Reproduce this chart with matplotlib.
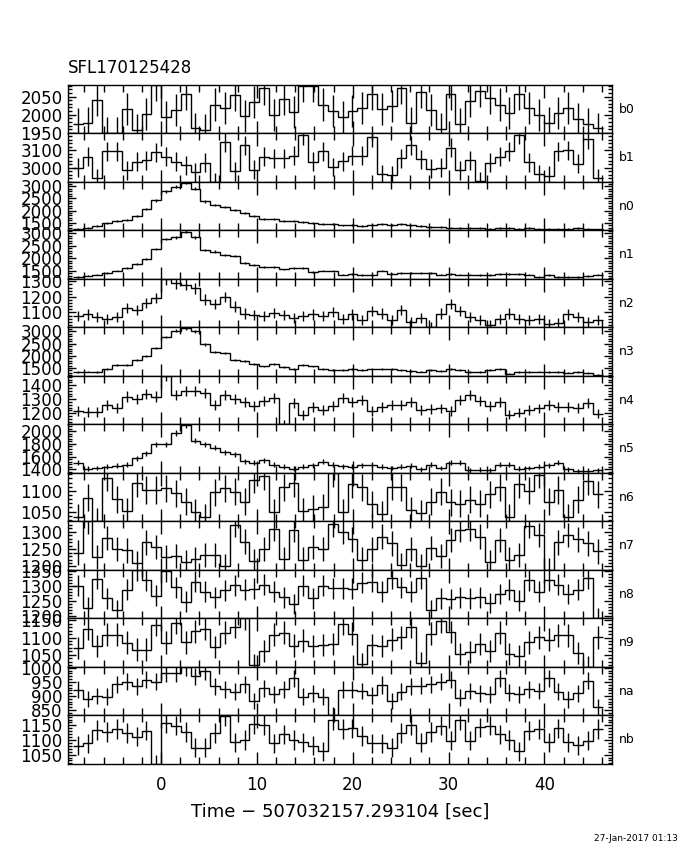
import numpy as np
import matplotlib
matplotlib.use('Agg')
import matplotlib.pyplot as plt
from matplotlib.ticker import MultipleLocator, AutoMinorLocator

# time bins: 1.024 s wide, first edge at -9.216 s from the trigger
t_start = -9.216
bin_width = 1.024

# count rates [counts/s] per detector, one value per bin
b0 = [1975, 1976, 2040, 1949, 1949, 2016, 1959, 2003, 2082, 1993,
      2014, 2057, 1962, 1957, 2028, 2019, 2054, 1997, 2035, 2073,
      2000, 2044, 2008, 2080, 2080, 2028, 2009, 1993, 2009, 2019,
      2057, 2016, 2025, 2075, 1976, 2063, 2012, 1960, 2057, 1975,
      2038, 2066, 2047, 2028, 2005, 2057, 2019, 2000, 1976, 2005,
      2019, 1988, 1974, 1962]
b1 = [3000, 3064, 2940, 3094, 3094, 2984, 3034, 3044, 3088, 3064,
      3034, 3014, 2974, 3028, 2918, 3148, 2980, 3128, 2988, 3064,
      3054, 3054, 3068, 3188, 3034, 3094, 3004, 3038, 3068, 3068,
      3174, 2964, 2958, 3054, 3128, 3048, 2994, 3000, 3114, 2984,
      3044, 2924, 3028, 3064, 3094, 3190, 3030, 2964, 2954, 3094,
      3100, 3024, 3164, 2940]
n0 = [1250, 1280, 1370, 1480, 1560, 1610, 1775, 2060, 2420, 2790,
      2990, 3150, 2910, 2380, 2240, 2150, 2040, 1920, 1780, 1670,
      1640, 1560, 1560, 1520, 1490, 1460, 1450, 1390, 1400, 1380,
      1420, 1440, 1400, 1460, 1390, 1380, 1310, 1335, 1300, 1280,
      1290, 1280, 1250, 1290, 1270, 1260, 1275, 1250, 1250, 1236,
      1260, 1270, 1240, 1222]
n1 = [1270, 1311, 1352, 1420, 1515, 1624, 1787, 1964, 2372, 2780,
      2848, 3079, 2848, 2331, 2277, 2127, 2100, 1828, 1733, 1651,
      1651, 1556, 1597, 1597, 1461, 1515, 1515, 1352, 1379, 1325,
      1325, 1515, 1393, 1420, 1420, 1420, 1420, 1352, 1379, 1352,
      1352, 1325, 1325, 1379, 1379, 1379, 1352, 1243, 1325, 1270,
      1243, 1270, 1297, 1352]
n2 = [1078, 1087, 1071, 1060, 1071, 1127, 1116, 1160, 1193, 1313,
      1287, 1278, 1255, 1182, 1153, 1198, 1138, 1093, 1082, 1078,
      1098, 1082, 1064, 1078, 1087, 1078, 1104, 1056, 1087, 1049,
      1109, 1093, 1049, 1116, 1038, 1064, 1004, 1093, 1153, 1109,
      1071, 1049, 1020, 1060, 1093, 1056, 1049, 1060, 1027, 1031,
      1087, 1071, 1038, 1049]
n3 = [1328, 1356, 1328, 1453, 1606, 1606, 1842, 2009, 2329, 2774,
      3024, 3121, 2996, 2468, 2162, 2120, 1842, 1773, 1662, 1564,
      1662, 1536, 1453, 1634, 1564, 1453, 1425, 1425, 1453, 1425,
      1467, 1453, 1467, 1425, 1384, 1356, 1425, 1384, 1467, 1425,
      1328, 1328, 1425, 1453, 1272, 1328, 1328, 1356, 1328, 1342,
      1314, 1328, 1286, 1217]
n4 = [1215, 1210, 1210, 1258, 1239, 1319, 1302, 1336, 1319, 1465,
      1327, 1360, 1360, 1344, 1258, 1327, 1302, 1283, 1254, 1288,
      1307, 1122, 1271, 1186, 1246, 1222, 1254, 1307, 1278, 1295,
      1215, 1246, 1258, 1258, 1278, 1222, 1229, 1234, 1215, 1295,
      1327, 1288, 1254, 1278, 1190, 1205, 1222, 1234, 1258, 1246,
      1246, 1239, 1271, 1198]
n5 = [1506, 1410, 1421, 1437, 1453, 1474, 1571, 1651, 1796, 1796,
      1974, 2097, 1850, 1796, 1743, 1668, 1635, 1528, 1506, 1544,
      1474, 1437, 1410, 1437, 1464, 1517, 1474, 1447, 1437, 1464,
      1474, 1437, 1421, 1437, 1453, 1399, 1474, 1421, 1506, 1506,
      1383, 1394, 1383, 1474, 1474, 1410, 1421, 1437, 1464, 1506,
      1399, 1367, 1378, 1380]
n6 = [1037, 1083, 1026, 1132, 1080, 1051, 1118, 1102, 1102, 1106,
      1094, 1074, 1049, 1037, 1096, 1106, 1098, 1074, 1127, 1135,
      1049, 1108, 1118, 1051, 1057, 1061, 1143, 1049, 1116, 1108,
      1067, 1043, 1110, 1108, 1053, 1047, 1074, 1098, 1072, 1069,
      1078, 1069, 1092, 1108, 1037, 1116, 1100, 1139, 1074, 1102,
      1037, 1078, 1124, 1092]
n7 = [1240, 1329, 1227, 1282, 1251, 1246, 1209, 1269, 1256, 1227,
      1230, 1214, 1222, 1232, 1232, 1201, 1319, 1271, 1217, 1251,
      1308, 1222, 1305, 1220, 1256, 1251, 1321, 1300, 1278, 1220,
      1249, 1285, 1266, 1205, 1251, 1201, 1253, 1230, 1276, 1305,
      1308, 1285, 1214, 1276, 1220, 1234, 1317, 1290, 1190, 1269,
      1290, 1278, 1266, 1243]
n8 = [1301, 1228, 1326, 1259, 1220, 1289, 1355, 1320, 1268, 1352,
      1297, 1248, 1315, 1282, 1263, 1286, 1303, 1289, 1291, 1305,
      1282, 1263, 1240, 1301, 1259, 1301, 1294, 1294, 1291, 1312,
      1315, 1282, 1328, 1297, 1282, 1328, 1220, 1259, 1257, 1263,
      1259, 1263, 1243, 1274, 1289, 1251, 1320, 1282, 1320, 1305,
      1274, 1289, 1328, 1191]
n9 = [1069, 1126, 1075, 1108, 1108, 1085, 1065, 1065, 1137, 1085,
      1143, 1086, 1118, 1126, 1072, 1114, 1131, 1155, 1020, 1062,
      1108, 1114, 1077, 1091, 1075, 1079, 1082, 1140, 1111, 1023,
      1079, 1075, 1094, 1101, 1131, 1026, 1111, 1147, 1116, 1052,
      1059, 1082, 1062, 1114, 1052, 1047, 1086, 1101, 1094, 1106,
      1106, 1055, 1015, 1101]
na = [922, 890, 900, 898, 942, 951, 934, 958, 951, 982,
      982, 1003, 970, 987, 934, 924, 915, 942, 882, 927,
      906, 924, 963, 898, 910, 898, 831, 922, 922, 918,
      902, 939, 882, 915, 934, 936, 942, 951, 958, 894,
      918, 910, 906, 963, 912, 906, 924, 918, 963, 915,
      888, 910, 955, 861]
nb = [1080, 1089, 1135, 1128, 1138, 1124, 1112, 1132, 1018, 1158,
      1149, 1128, 1074, 1074, 1124, 1182, 1093, 1100, 1155, 1152,
      1089, 1120, 1100, 1093, 1080, 1062, 1167, 1138, 1140, 1114,
      1089, 1089, 1074, 1124, 1152, 1091, 1128, 1149, 1097, 1167,
      1097, 1143, 1149, 1120, 1100, 1062, 1132, 1138, 1093, 1140,
      1093, 1082, 1097, 1138]

detectors = ['b0', 'b1', 'n0', 'n1', 'n2', 'n3', 'n4', 'n5',
             'n6', 'n7', 'n8', 'n9', 'na', 'nb']
rates = [b0, b1, n0, n1, n2, n3, n4, n5, n6, n7, n8, n9, na, nb]
ylims = [(1948, 2082), (2918, 3196), (1180, 3180), (1175, 3120),
         (1003, 1315), (1175, 3160), (1120, 1465), (1340, 2108),
         (1026, 1143), (1190, 1329), (1191, 1355), (1015, 1155),
         (831, 1003), (1018, 1184)]
ystep = [50, 100, 500, 500, 100, 500, 100, 200, 50, 50, 50, 50, 50, 50]

fig = plt.figure(figsize=(6.8, 8.5), dpi=100)

left, right, bottom, top = 0.1, 0.9, 0.1012, 0.9
h = (top - bottom) / len(detectors)

for i, name in enumerate(detectors):
    ax = fig.add_axes([left, top - (i + 1) * h, right - left, h])
    y = np.array(rates[i], dtype=float)
    edges = t_start + bin_width * np.arange(len(y) + 1)
    mid = 0.5 * (edges[:-1] + edges[1:])
    err = np.sqrt(y / bin_width)   # poisson error on the rate

    ax.stairs(y, edges, baseline=None, color='k', lw=1.0)
    ax.errorbar(mid, y, yerr=err, fmt='none', ecolor='k',
                elinewidth=1.0, capsize=0)

    ax.set_xlim(-9.72, 47.06)
    ax.set_ylim(*ylims[i])
    ax.xaxis.set_major_locator(MultipleLocator(10))
    ax.xaxis.set_minor_locator(MultipleLocator(2))
    ax.yaxis.set_major_locator(MultipleLocator(ystep[i]))
    ax.yaxis.set_minor_locator(AutoMinorLocator(5))

    ax.tick_params(which='both', direction='in', top=True, right=True,
                   width=1.0, colors='k')
    ax.tick_params(axis='x', which='major', length=9)
    ax.tick_params(axis='x', which='minor', length=5)
    ax.tick_params(axis='y', which='major', length=6, labelsize=12, pad=4)
    ax.tick_params(axis='y', which='minor', length=3)
    for s in ax.spines.values():
        s.set_linewidth(1.0)

    if i < len(detectors) - 1:
        ax.tick_params(axis='x', labelbottom=False)
    else:
        ax.tick_params(axis='x', labelsize=12, pad=9)

    ax.text(1.012, 0.5, name, transform=ax.transAxes,
            ha='left', va='center', fontsize=9)

fig.text(0.1, 0.92, 'SFL170125428', ha='left', va='center', fontsize=12)
fig.text(0.5, 0.045, 'Time \u2212 507032157.293104 [sec]',
         ha='center', va='center', fontsize=13)
fig.text(0.997, 0.014, '27-Jan-2017 01:13', ha='right', va='center',
         fontsize=6.5)

plt.savefig('out.png', dpi=100)
